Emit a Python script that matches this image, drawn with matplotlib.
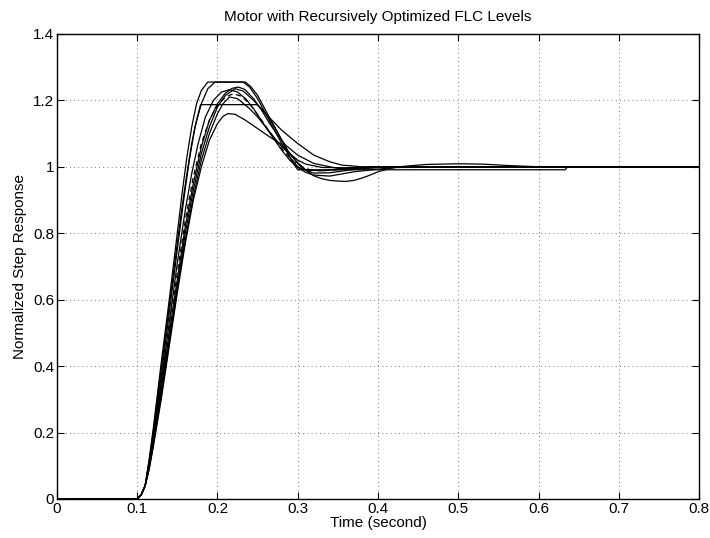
import numpy as np
import matplotlib
matplotlib.use('Agg')
import matplotlib.pyplot as plt

plt.rcParams['font.family'] = ['Liberation Sans', 'DejaVu Sans']

# Step responses (time in s, normalized output)
t1 = [0.0, 0.1, 0.105, 0.11, 0.115, 0.12, 0.13, 0.14, 0.15, 0.156, 0.162, 0.168,
      0.174, 0.18, 0.188, 0.232, 0.24, 0.25, 0.26, 0.27, 0.28, 0.29, 0.30, 0.31,
      0.33, 0.37, 0.42, 0.8]
y1 = [0.0, 0.0, 0.012, 0.04, 0.12, 0.21, 0.41, 0.60, 0.80, 0.92, 1.03, 1.12,
      1.19, 1.23, 1.255, 1.255, 1.24, 1.205, 1.16, 1.115, 1.07, 1.03, 1.0, 0.99,
      0.988, 0.995, 1.0, 1.0]

t2 = [0.0, 0.1, 0.105, 0.11, 0.115, 0.12, 0.13, 0.14, 0.15, 0.158, 0.165, 0.172,
      0.18, 0.188, 0.197, 0.235, 0.242, 0.25, 0.26, 0.27, 0.28, 0.29, 0.30, 0.31,
      0.32, 0.34, 0.37, 0.40, 0.8]
y2 = [0.0, 0.0, 0.012, 0.04, 0.11, 0.19, 0.37, 0.56, 0.75, 0.90, 1.02, 1.12,
      1.19, 1.235, 1.255, 1.255, 1.24, 1.215, 1.17, 1.125, 1.08, 1.04, 1.01, 0.99,
      0.981, 0.982, 0.992, 0.998, 1.0]

t3 = [0.0, 0.1, 0.105, 0.11, 0.115, 0.12, 0.13, 0.14, 0.15, 0.156, 0.162, 0.168,
      0.174, 0.179, 0.249, 0.255, 0.263, 0.27, 0.278, 0.286, 0.293, 0.30, 0.633,
      0.636, 0.8]
y3 = [0.0, 0.0, 0.012, 0.04, 0.115, 0.20, 0.39, 0.58, 0.77, 0.88, 0.98, 1.07,
      1.14, 1.187, 1.187, 1.175, 1.15, 1.125, 1.09, 1.05, 1.015, 0.991, 0.991,
      1.0, 1.0]

t4 = [0.0, 0.1, 0.105, 0.11, 0.115, 0.12, 0.13, 0.14, 0.15, 0.16, 0.168, 0.176,
      0.185, 0.195, 0.205, 0.215, 0.225, 0.235, 0.245, 0.26, 0.27, 0.28, 0.29,
      0.30, 0.31, 0.32, 0.34, 0.37, 0.42, 0.8]
y4 = [0.0, 0.0, 0.012, 0.04, 0.105, 0.18, 0.35, 0.53, 0.71, 0.87, 0.98, 1.07,
      1.15, 1.20, 1.225, 1.232, 1.225, 1.205, 1.175, 1.12, 1.085, 1.05, 1.02,
      0.998, 0.983, 0.975, 0.972, 0.985, 0.998, 1.0]

t5 = [0.0, 0.1, 0.105, 0.11, 0.115, 0.12, 0.13, 0.14, 0.15, 0.16, 0.17, 0.18,
      0.19, 0.20, 0.21, 0.218, 0.226, 0.234, 0.245, 0.255, 0.265, 0.275, 0.285,
      0.30, 0.32, 0.35, 0.40, 0.8]
y5 = [0.0, 0.0, 0.012, 0.04, 0.10, 0.17, 0.33, 0.50, 0.66, 0.82, 0.95, 1.06,
      1.14, 1.19, 1.222, 1.236, 1.24, 1.233, 1.205, 1.17, 1.13, 1.095, 1.065,
      1.035, 1.01, 0.995, 0.998, 1.0]

t6 = [0.0, 0.1, 0.105, 0.11, 0.115, 0.12, 0.13, 0.14, 0.15, 0.16, 0.17, 0.18,
      0.19, 0.20, 0.21, 0.222, 0.232, 0.245, 0.26, 0.27, 0.28, 0.29, 0.30, 0.32,
      0.34, 0.355, 0.38, 0.8]
y6 = [0.0, 0.0, 0.012, 0.04, 0.095, 0.165, 0.32, 0.48, 0.64, 0.80, 0.93, 1.04,
      1.12, 1.18, 1.215, 1.235, 1.228, 1.2, 1.16, 1.135, 1.11, 1.09, 1.07, 1.035,
      1.015, 1.005, 1.0, 1.0]

t7 = [0.0, 0.1, 0.105, 0.11, 0.115, 0.12, 0.13, 0.14, 0.15, 0.16, 0.17, 0.18,
      0.19, 0.20, 0.207, 0.215, 0.225, 0.24, 0.25, 0.26, 0.27, 0.28, 0.29, 0.30,
      0.31, 0.33, 0.36, 0.40, 0.8]
y7 = [0.0, 0.0, 0.012, 0.04, 0.09, 0.16, 0.31, 0.47, 0.63, 0.78, 0.91, 1.02,
      1.10, 1.16, 1.19, 1.21, 1.205, 1.175, 1.15, 1.12, 1.09, 1.06, 1.04, 1.02,
      1.008, 0.998, 0.997, 1.0, 1.0]

t8 = [0.0, 0.1, 0.105, 0.11, 0.115, 0.12, 0.13, 0.14, 0.15, 0.16, 0.17, 0.18,
      0.19, 0.20, 0.207, 0.213, 0.222, 0.235, 0.25, 0.265, 0.278, 0.29, 0.30,
      0.31, 0.32, 0.33, 0.34, 0.35, 0.36, 0.37, 0.38, 0.39, 0.40, 0.415, 0.43,
      0.46, 0.50, 0.53, 0.56, 0.60, 0.8]
y8 = [0.0, 0.0, 0.012, 0.04, 0.09, 0.155, 0.30, 0.46, 0.62, 0.77, 0.90, 1.0,
      1.08, 1.13, 1.152, 1.16, 1.158, 1.14, 1.115, 1.09, 1.07, 1.04, 1.012,
      0.99, 0.973, 0.964, 0.959, 0.957, 0.956, 0.959, 0.966, 0.975, 0.985, 0.995,
      1.001, 1.007, 1.009, 1.008, 1.004, 1.0, 1.0]

# dashed response
t9 = [0.0, 0.1, 0.105, 0.11, 0.115, 0.12, 0.13, 0.14, 0.15, 0.16, 0.17, 0.18,
      0.19, 0.20, 0.21, 0.22, 0.23, 0.24, 0.255, 0.265, 0.275, 0.285, 0.295,
      0.305, 0.315, 0.33, 0.35, 0.38, 0.8]
y9 = [0.0, 0.0, 0.012, 0.04, 0.10, 0.175, 0.34, 0.51, 0.68, 0.84, 0.97, 1.07,
      1.14, 1.185, 1.21, 1.22, 1.212, 1.19, 1.14, 1.105, 1.07, 1.04, 1.015,
      1.0, 0.991, 0.988, 0.992, 0.998, 1.0]

xticks = [0, 0.1, 0.2, 0.3, 0.4, 0.5, 0.6, 0.7, 0.8]
xtick_labels = ['0', '0.1', '0.2', '0.3', '0.4', '0.5', '0.6', '0.7', '0.8']
yticks = [0, 0.2, 0.4, 0.6, 0.8, 1.0, 1.2, 1.4]
ytick_labels = ['0', '0.2', '0.4', '0.6', '0.8', '1', '1.2', '1.4']

fig = plt.figure(figsize=(7.1, 5.38), dpi=100)
ax = fig.add_axes([0.080, 0.0725, 0.905, 0.8645])

for t, y in [(t1, y1), (t2, y2), (t3, y3), (t4, y4), (t5, y5),
             (t6, y6), (t7, y7), (t8, y8)]:
    ax.plot(t, y, color='black', linewidth=0.9)
ax.plot(t9, y9, color='black', linewidth=0.9, linestyle=(0, (4, 3)))

ax.set_xlim(0, 0.8)
ax.set_ylim(0, 1.4)
ax.set_xticks(xticks)
ax.set_xticklabels(xtick_labels)
ax.set_yticks(yticks)
ax.set_yticklabels(ytick_labels)
ax.tick_params(direction='in', top=True, right=True, length=5, width=0.8,
               labelsize=11, pad=2)
ax.grid(True, linestyle=(0, (1, 4)), color='black', linewidth=0.6, alpha=0.7)
for s in ax.spines.values():
    s.set_linewidth(1.0)

ax.set_title('Motor with Recursively Optimized FLC Levels', fontsize=11, pad=9)
ax.set_xlabel('Time (second)', fontsize=11, labelpad=0)
ax.set_ylabel('Normalized Step Response', fontsize=11, labelpad=4)

fig.savefig('out.png', dpi=100, facecolor='white')
